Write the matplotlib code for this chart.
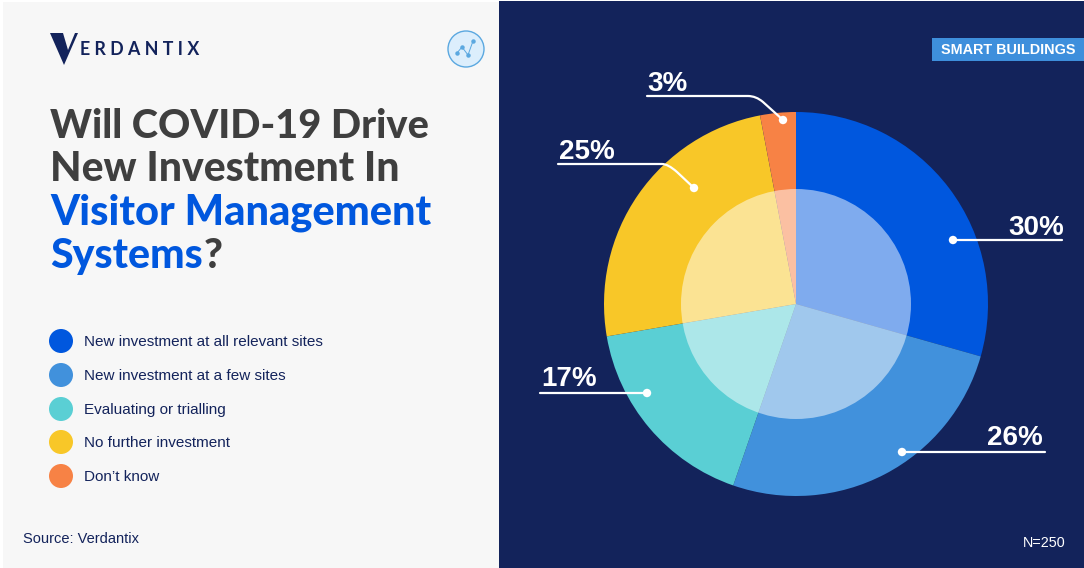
import matplotlib
matplotlib.use('Agg')
import matplotlib.pyplot as plt
from matplotlib.patches import Circle, PathPatch, Polygon, Rectangle
from matplotlib.path import Path

# chart data
categories = ['New investment at all relevant sites', 'New investment at a few sites',
              'Evaluating or trialling', 'No further investment', 'Don\u2019t know']
# slice sizes, the printed labels are rounded
values = [29.4, 25.9, 17.0, 24.7, 3.0]
colors = ['#0057DE', '#4191DC', '#5ACFD4', '#F8C728', '#F78245']
labels = ['30%', '26%', '17%', '25%', '3%']

navy = '#13235B'
grey = '#3F3F3F'
blue = '#0057DE'

W, H = 1084, 568
fig = plt.figure(figsize=(W / 100, H / 100), dpi=100, facecolor='white')

# everything except the pie is placed in pixel coords
ax = fig.add_axes([0, 0, 1, 1])
ax.set_xlim(0, W)
ax.set_ylim(H, 0)
ax.axis('off')

ax.add_patch(Rectangle((3, 2), 496, H, fc='#F7F7F7', ec='none'))
ax.add_patch(Rectangle((499, 1), W - 499, H, fc=navy, ec='none'))

# logo
ax.add_patch(Polygon([(50, 33), (63, 33), (68, 50), (75, 33), (78, 33), (64, 65)], fc=navy, ec='none'))
ax.text(80, 55, 'E R D A N T I X', family='Lato', fontsize=12.8, weight='bold', color=navy, va='baseline')

# small icon top right of the panel
ax.add_patch(Circle((466, 49), 18, fc='#DCEEFC', ec='#5BA8E0', lw=1))
ax.plot([457, 462, 468, 473], [53, 47, 55, 41], color='#5BA8E0', lw=0.7, marker='o', ms=2.2)

# title, Lato runs narrower than the original face so each line gets its own size
title_lines = [('Will COVID-19 Drive', grey, 138, 28.6), ('New Investment In', grey, 181, 29.4),
               ('Visitor Management', blue, 225, 30), ('Systems', blue, 268, 29.5)]
for txt, col, y, size in title_lines:
    t = ax.text(50, y, txt, family='Lato', weight='black', fontsize=size, color=col, va='baseline')
r = t.get_window_extent(fig.canvas.get_renderer())
ax.text(r.x1 + 1, 268, '?', family='Lato', weight='black', fontsize=29.5, color=grey, va='baseline')

# legend
legend_y = [341, 375, 409, 442, 476]
for name, col, y in zip(categories, colors, legend_y):
    ax.add_patch(Circle((61, y), 12, fc=col, ec='none'))
    ax.text(84, y + 1, name, family='Liberation Sans', fontsize=11, color=navy, va='center')

ax.text(23, 539, 'Source: Verdantix', family='Liberation Sans', fontsize=10.5, color=navy, va='center')

# badge and sample size
ax.add_patch(Rectangle((932, 38), 152, 23, fc='#3E8FDC', ec='none'))
ax.text(1008, 50, 'SMART BUILDINGS', family='Liberation Sans', weight='bold', fontsize=10.4,
        color='white', ha='center', va='center')
ax.text(1066, 543, 'N=250', family='Liberation Sans', fontsize=10.4, color='white', ha='right', va='center')

# pie, centre (796, 304), radius 192
cx, cy, rad = 796, 304, 192
ax_pie = fig.add_axes([(cx - rad) / W, 1 - (cy + rad) / H, 2 * rad / W, 2 * rad / H])
ax_pie.pie(values, colors=colors, startangle=90, counterclock=False, radius=1,
           wedgeprops={'linewidth': 0})
ax_pie.add_patch(Circle((0, 0), 115 / rad, fc='white', ec='none', alpha=0.5))
ax_pie.set_xlim(-1, 1)
ax_pie.set_ylim(-1, 1)

# leader lines on a top layer
ax_top = fig.add_axes([0, 0, 1, 1])
ax_top.set_xlim(0, W)
ax_top.set_ylim(H, 0)
ax_top.axis('off')


def leader(verts, codes):
    ax_top.add_patch(PathPatch(Path(verts, codes), fc='none', ec='white', lw=1.6, capstyle='round'))
    ax_top.add_patch(Circle(verts[-1], 4.2, fc='white', ec='none'))


M, L, C = Path.MOVETO, Path.LINETO, Path.CURVE3
leader([(1062, 240), (953, 240)], [M, L])
leader([(1045, 452), (902, 452)], [M, L])
leader([(540, 393), (647, 393)], [M, L])
leader([(558, 164), (662, 164), (668, 164), (677, 172), (694, 188)], [M, L, C, C, L])
leader([(647, 96), (748, 96), (756, 96), (763, 102), (783, 120)], [M, L, C, C, L])

label_pos = [(1008, 235), (987, 445), (541, 386), (559, 159), (647, 91)]
for txt, (x, y) in zip(labels, label_pos):
    ax_top.text(x, y, txt, family='Liberation Sans', weight='bold', fontsize=20, color='white', va='baseline')

fig.savefig('out.png', dpi=100)
